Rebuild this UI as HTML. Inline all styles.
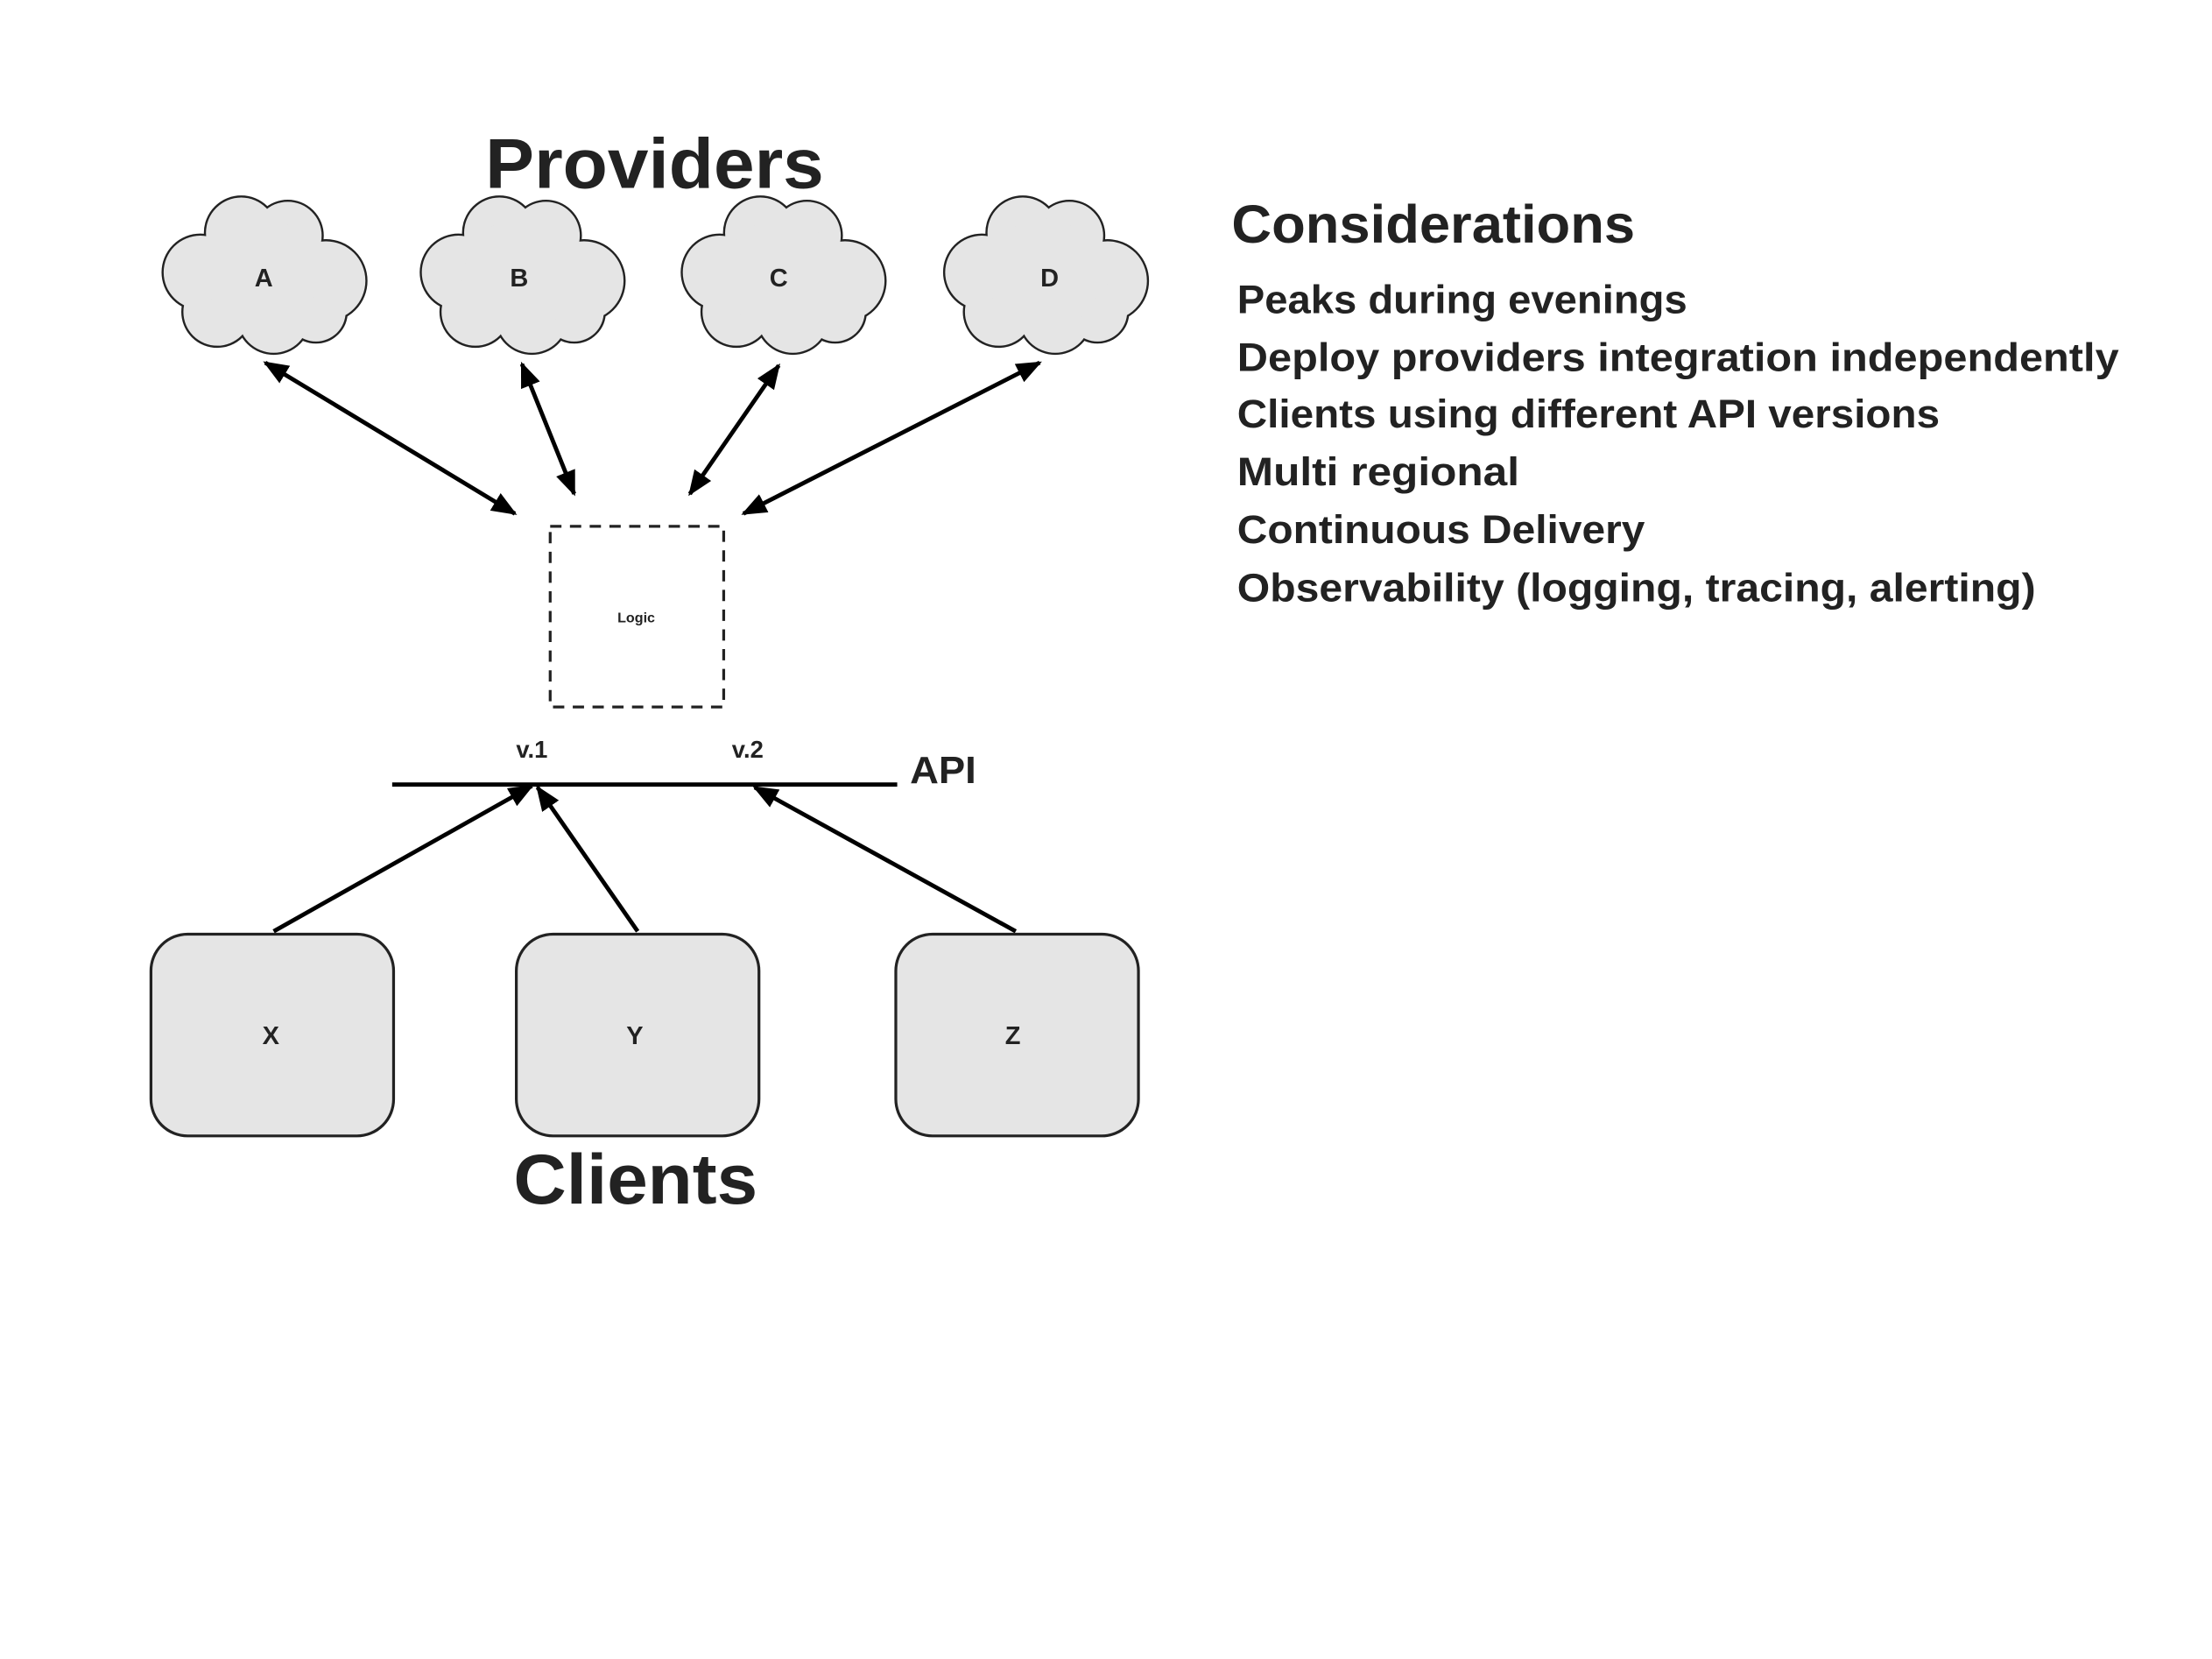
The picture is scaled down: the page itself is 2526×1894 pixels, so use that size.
<!DOCTYPE html>
<html><head><meta charset="utf-8"><style>html,body{margin:0;padding:0;background:#fff}svg{display:block}</style></head>
<body>
<svg width="2526" height="1894" viewBox="0 0 1568 1175.7" xmlns="http://www.w3.org/2000/svg" font-family="'Liberation Sans', sans-serif" font-weight="bold" fill="#222">
<defs>
<marker id="ah" viewBox="0 0 10 10" refX="9" refY="5" markerWidth="6" markerHeight="6" orient="auto-start-reverse" markerUnits="strokeWidth">
<path d="M0,1 L10,5 L0,9 z" fill="#000"/></marker>
<g id="cloud">
<g stroke="#222" stroke-width="3" fill="#222">
<circle cx="-15" cy="-30" r="25"/><circle cx="18" cy="-28" r="24"/><circle cx="-44" cy="-2" r="26"/><circle cx="45" cy="4" r="28"/><circle cx="-32" cy="26" r="24"/><circle cx="8" cy="30" r="25"/><circle cx="38" cy="26" r="21"/><circle cx="0" cy="0" r="40"/>
</g>
<g fill="#e5e5e5">
<circle cx="-15" cy="-30" r="25"/><circle cx="18" cy="-28" r="24"/><circle cx="-44" cy="-2" r="26"/><circle cx="45" cy="4" r="28"/><circle cx="-32" cy="26" r="24"/><circle cx="8" cy="30" r="25"/><circle cx="38" cy="26" r="21"/><circle cx="0" cy="0" r="40"/>
</g>
</g>
</defs>
<text x="344" y="133" font-size="50" textLength="240" lengthAdjust="spacingAndGlyphs">Providers</text>
<use href="#cloud" x="186" y="195"/>
<use href="#cloud" x="369" y="195"/>
<use href="#cloud" x="554" y="195"/>
<use href="#cloud" x="740" y="195"/>
<g font-size="18" text-anchor="middle">
<text x="187" y="203">A</text><text x="368" y="203">B</text><text x="552" y="203">C</text><text x="744" y="203">D</text>
</g>
<g stroke="#000" stroke-width="3" fill="none" marker-start="url(#ah)" marker-end="url(#ah)">
<line x1="188" y1="257" x2="365" y2="364"/>
<line x1="370" y1="258" x2="407" y2="350"/>
<line x1="552" y1="259" x2="489" y2="350"/>
<line x1="737" y1="257" x2="527" y2="364"/>
</g>
<rect x="390" y="373" width="123" height="128" fill="none" stroke="#222" stroke-width="2" stroke-dasharray="8,6"/>
<text x="451" y="441" font-size="10" text-anchor="middle">Logic</text>
<text x="377" y="537" font-size="17" text-anchor="middle">v.1</text>
<text x="530" y="537" font-size="17" text-anchor="middle">v.2</text>
<line x1="278" y1="556" x2="636" y2="556" stroke="#000" stroke-width="3"/>
<text x="645" y="555" font-size="27" textLength="47" lengthAdjust="spacingAndGlyphs">API</text>
<g stroke="#000" stroke-width="3" fill="none" marker-end="url(#ah)">
<line x1="194" y1="660" x2="377" y2="557"/>
<line x1="452" y1="660" x2="381" y2="558"/>
<line x1="720" y1="660" x2="535" y2="558"/>
</g>
<g fill="#e5e5e5" stroke="#222" stroke-width="2">
<rect x="107" y="662" width="172" height="143" rx="26"/>
<rect x="366" y="662" width="172" height="143" rx="26"/>
<rect x="635" y="662" width="172" height="143" rx="26"/>
</g>
<g font-size="18" text-anchor="middle">
<text x="192" y="740">X</text><text x="450" y="740">Y</text><text x="718" y="740">Z</text>
</g>
<text x="364" y="853" font-size="50" textLength="173" lengthAdjust="spacingAndGlyphs">Clients</text>
<text x="873" y="172" font-size="38" textLength="286" lengthAdjust="spacingAndGlyphs">Considerations</text>
<g font-size="28">
<text x="877" y="222" textLength="319" lengthAdjust="spacingAndGlyphs">Peaks during evenings</text>
<text x="877" y="263" textLength="625" lengthAdjust="spacingAndGlyphs">Deploy providers integration independently</text>
<text x="877" y="303" textLength="498" lengthAdjust="spacingAndGlyphs">Clients using different API versions</text>
<text x="877" y="344" textLength="200" lengthAdjust="spacingAndGlyphs">Multi regional</text>
<text x="877" y="385" textLength="289" lengthAdjust="spacingAndGlyphs">Continuous Delivery</text>
<text x="877" y="426" textLength="566" lengthAdjust="spacingAndGlyphs">Observability (logging, tracing, alerting)</text>
</g>
</svg>
</body></html>
